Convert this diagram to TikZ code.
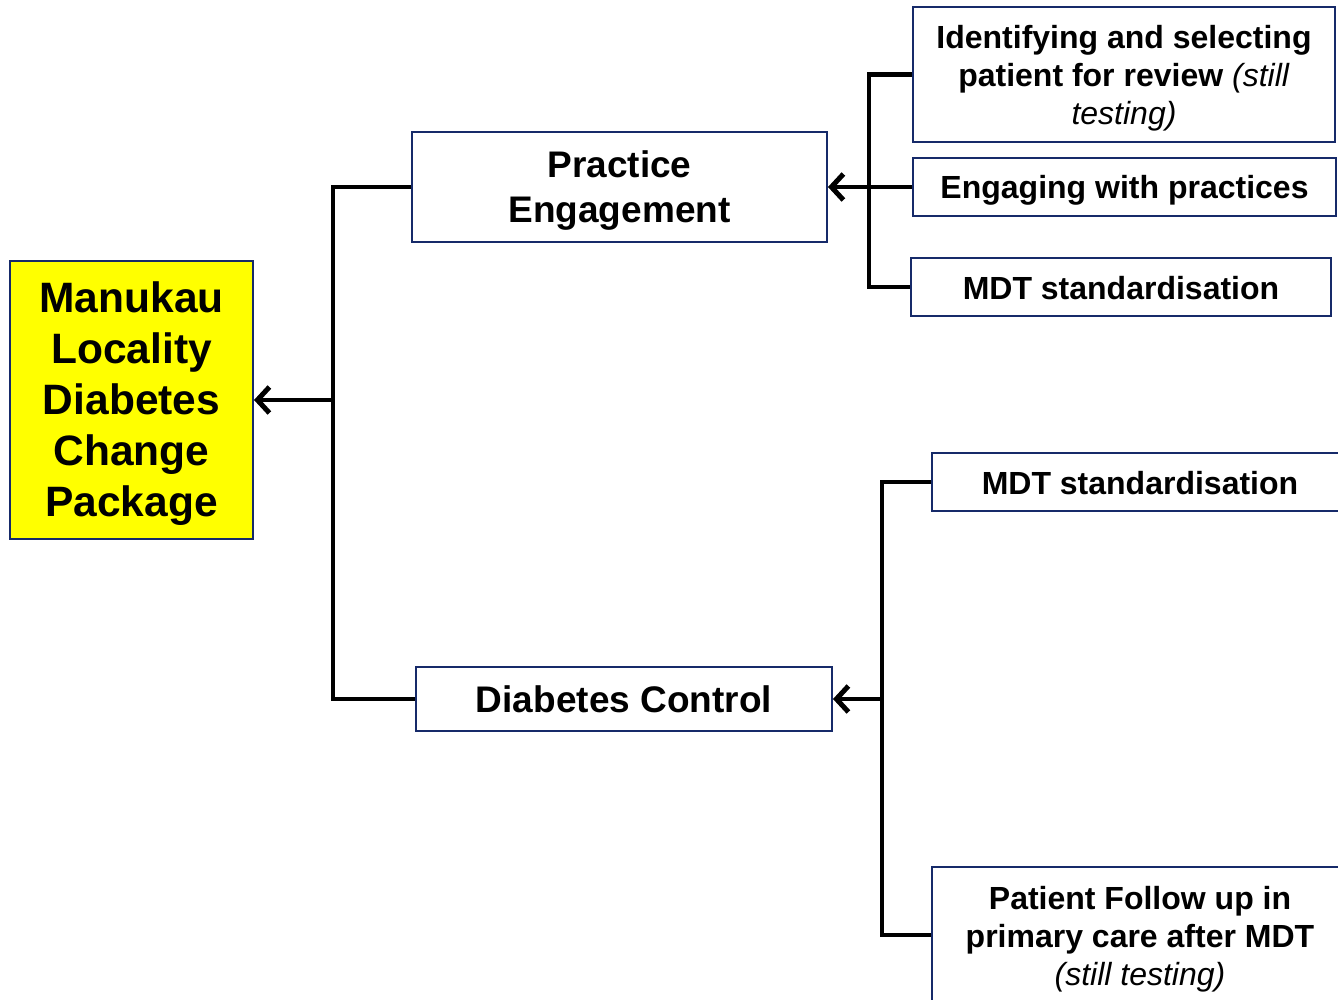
\documentclass[tikz,border=0pt]{standalone}
\usepackage{fontspec}
\setmainfont{Liberation Sans}
\usetikzlibrary{arrows.meta}
\definecolor{navy}{RGB}{22,42,105}
\definecolor{yel}{RGB}{255,255,0}
\begin{document}
\begin{tikzpicture}[x=1pt,y=-1pt,
  box/.style={draw=navy,line width=2pt,fill=white,inner sep=0pt},
  txt/.style={align=center,inner sep=0pt,font=\bfseries\fontsize{32}{38}\selectfont},
  conn/.style={line width=4.5pt,line join=miter},
  arr/.style={conn,-{Straight Barb[length=12pt,width=26pt,line width=5pt]}}]
\useasboundingbox (0,0) rectangle (1338,1000);
\node[box,fill=yel,minimum width=243pt,minimum height=278pt] (yel) at (131.5,400) {};
\node[txt,font=\bfseries\fontsize{42.5}{51}\selectfont] (yelt) at ([yshift=-4pt]yel.center) {Manukau\\Locality\\Diabetes\\Change\\Package};
\node[box,minimum width=415pt,minimum height=110pt] (pe) at (619.5,187) {};
\node[txt,font=\bfseries\fontsize{37}{45}\selectfont] (pet) at ([yshift=-4pt]pe.center) {Practice\\Engagement};
\node[box,minimum width=416pt,minimum height=64pt] (dc) at (624,699) {};
\node[txt,font=\bfseries\fontsize{37}{45}\selectfont] (dct) at (dc.center) {Diabetes Control};
\node[box,minimum width=422pt,minimum height=135pt] (id) at (1124,74.5) {};
\node[txt] (idt) at ([yshift=-4pt]id.center) {Identifying and selecting\\patient for review \textmd{\itshape(still}\\\textmd{\itshape testing)}};
\node[box,minimum width=423pt,minimum height=58pt] (en) at (1124.5,187) {};
\node[txt] (ent) at ([yshift=-3pt]en.center) {Engaging with practices};
\node[box,minimum width=420pt,minimum height=58pt] (m1) at (1121,287) {};
\node[txt] (m1t) at ([yshift=-1.5pt]m1.center) {MDT standardisation};
\node[box,minimum width=416pt,minimum height=58pt] (m2) at (1140,482) {};
\node[txt] (m2t) at ([yshift=-1.5pt]m2.center) {MDT standardisation};
\node[box,minimum width=416pt,minimum height=136pt] (pf) at (1140,935) {};
\node[txt] (pft) at ([yshift=-4pt]pf.center) {Patient Follow up in\\primary care after MDT\\\textmd{\itshape(still testing)}};
\coordinate (j1) at (333,400);
\coordinate (j2) at (869,187);
\coordinate (j3) at (882,699);
\draw[conn] (pe.west) -| (j1) |- (dc.west);
\draw[arr] (j1) -- (yel.east);
\draw[conn] (id.west) -| (j2) |- (m1.west);
\draw[arr] (en.west) -- (pe.east);
\draw[conn] (m2.west) -| (j3) |- (pf.west);
\draw[arr] (j3) -- (dc.east);
\end{tikzpicture}
\end{document}
